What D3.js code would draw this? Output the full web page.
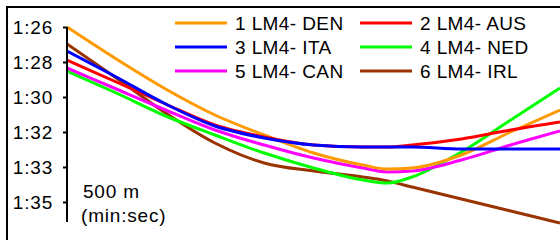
<!DOCTYPE html>
<html><head><meta charset="utf-8">
<script src="https://cdn.jsdelivr.net/npm/d3@7"></script>
<style>
html,body{margin:0;padding:0;background:#fff;overflow:hidden}
text{font-family:"Liberation Sans",Arial,sans-serif;fill:#000}
</style></head><body>
<script>
// distance along the race (m)
const distances = [0, 100, 200, 300, 400, 500, 600, 650, 700, 800, 900, 1000];
// 500 m pace in seconds
const den = [86.00, 87.60, 89.10, 90.40, 91.40, 92.30, 92.90, 93.10, 93.05, 92.40, 91.25, 90.15];
const aus = [87.65, 88.75, 89.85, 90.90, 91.50, 91.90, 92.00, 92.00, 91.90, 91.60, 91.15, 90.75];
const ita = [87.20, 88.50, 89.85, 90.95, 91.55, 91.90, 92.00, 92.00, 92.00, 92.10, 92.10, 92.10];
const ned = [88.20, 89.30, 90.45, 91.40, 92.30, 93.05, 93.65, 93.80, 93.50, 92.25, 90.65, 89.05];
const can = [88.05, 89.10, 90.15, 91.15, 91.90, 92.55, 93.05, 93.25, 93.20, 92.65, 91.90, 91.20];
const irl = [86.85, 88.55, 90.30, 91.80, 92.80, 93.20, 93.50, 93.70, 94.00, 94.60, 95.20, 95.80];
const seriesNames = ["1 LM4- DEN", "2 LM4- AUS", "3 LM4- ITA", "4 LM4- NED", "5 LM4- CAN", "6 LM4- IRL"];
const seriesColors = ["#ff9900", "#ff0000", "#0000ff", "#00ff00", "#ff00ff", "#993300"];
const tickValues = [86, 87.75, 89.5, 91.25, 93, 94.75];
const tickLabels = ["1:26", "1:28", "1:30", "1:32", "1:33", "1:35"];
const axisTitle = ["500 m", "(min:sec)"];

const seriesValues = [den, aus, ita, ned, can, irl];
const W = 560, H = 240;
const svg = d3.select("body").append("svg").attr("width", W).attr("height", H);

// outer frame
svg.append("rect").attr("x", 7).attr("y", 7).attr("width", W + 10).attr("height", H + 10)
  .attr("fill", "#fff").attr("stroke", "#000").attr("stroke-width", 2);

const x = d3.scaleLinear().domain([0, 1000]).range([67, 560]);
const y = d3.scaleLinear().domain([86, 95.75]).range([27, 222]);

svg.append("defs").append("clipPath").attr("id", "clip")
  .append("rect").attr("x", 67).attr("y", 8).attr("width", 500).attr("height", 240);

const line = d3.line().x((d, i) => x(distances[i])).y(d => y(d)).curve(d3.curveMonotoneX);

const lines = svg.append("g").attr("clip-path", "url(#clip)");
const order = [5, 3, 4, 0, 1, 2];
order.forEach(k => {
  lines.append("path").datum(seriesValues[k]).attr("d", line)
    .attr("fill", "none").attr("stroke", seriesColors[k]).attr("stroke-width", 3)
    .attr("stroke-linejoin", "round");
});

// y axis
const axis = d3.axisLeft(y).tickValues(tickValues)
  .tickFormat((d, i) => tickLabels[i]).tickSize(4).tickPadding(10);
const ag = svg.append("g").attr("transform", "translate(67,0)").call(axis);
ag.select(".domain").attr("stroke", "#000").attr("stroke-width", 2).attr("d", "M0,27V222");
ag.selectAll(".tick line").attr("stroke", "#000").attr("stroke-width", 2);
ag.selectAll(".tick text").attr("font-size", 19).attr("letter-spacing", 0.8)
  .style("font-family", "Liberation Sans, Arial, sans-serif").attr("fill", "#000");

// axis title
svg.append("text").attr("x", 83).attr("y", 198).attr("font-size", 19).attr("letter-spacing", 0.8).text(axisTitle[0]);
svg.append("text").attr("x", 81).attr("y", 222).attr("font-size", 19).attr("letter-spacing", 0.8).text(axisTitle[1]);

// legend
const lg = svg.append("g");
seriesNames.forEach((name, i) => {
  const col = i % 2, row = Math.floor(i / 2);
  const lx = col === 0 ? 175 : 360;
  const ly = 23 + row * 24;
  lg.append("line").attr("x1", lx).attr("x2", lx + 52).attr("y1", ly).attr("y2", ly)
    .attr("stroke", seriesColors[i]).attr("stroke-width", 3);
  lg.append("text").attr("x", lx + 60).attr("y", ly + 6.5).attr("font-size", 19)
    .attr("letter-spacing", 0.4).text(name);
});
</script>
</body></html>
